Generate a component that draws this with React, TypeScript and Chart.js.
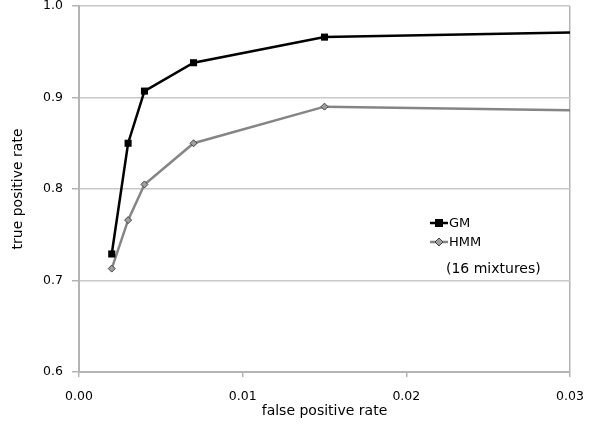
import React, { useEffect, useRef } from "react";
import { Chart, registerables } from "chart.js";

Chart.register(...registerables);

const fpr = [0.002, 0.003, 0.004, 0.007, 0.015, 0.03];
const gmTpr = [0.729, 0.85, 0.907, 0.938, 0.966, 0.971];
const hmmTpr = [0.713, 0.766, 0.805, 0.85, 0.89, 0.886];
const seriesNames = ["GM", "HMM"];
const noteText = "(16 mixtures)";
const xTitle = "false positive rate";
const yTitle = "true positive rate";

const FONT = "'DejaVu Sans', sans-serif";
const AXIS = "#b4b4b4";
const GRID = "#c8c8c8";

const legendPlugin = {
  id: "customLegend",
  afterDatasetsDraw(chart: any) {
    const ctx = chart.ctx;
    const items = chart.data.datasets;
    const x0 = 430;
    const ys = [223, 242];
    ctx.save();
    items.forEach((ds: any, i: number) => {
      const y = ys[i];
      ctx.strokeStyle = ds.borderColor;
      ctx.lineWidth = 2.5;
      ctx.beginPath();
      ctx.moveTo(x0, y);
      ctx.lineTo(x0 + 18, y);
      ctx.stroke();
      ctx.fillStyle = ds.pointBackgroundColor;
      ctx.strokeStyle = ds.pointBorderColor;
      ctx.lineWidth = 1;
      const cx = x0 + 9;
      if (i === 0) {
        ctx.fillRect(cx - 4, y - 4, 8, 8);
      } else {
        ctx.beginPath();
        ctx.moveTo(cx, y - 4);
        ctx.lineTo(cx + 4, y);
        ctx.lineTo(cx, y + 4);
        ctx.lineTo(cx - 4, y);
        ctx.closePath();
        ctx.fill();
        ctx.stroke();
      }
      ctx.fillStyle = "#000";
      ctx.font = `13px ${FONT}`;
      ctx.textBaseline = "middle";
      ctx.textAlign = "left";
      ctx.fillText(ds.label, x0 + 19, y + 1);
    });
    ctx.font = `14px ${FONT}`;
    ctx.fillStyle = "#000";
    ctx.textBaseline = "middle";
    ctx.fillText(noteText, 446, 269);
    ctx.restore();
  },
};

export default function App() {
  const ref = useRef<HTMLCanvasElement>(null);
  useEffect(() => {
    const chart = new Chart(ref.current as HTMLCanvasElement, {
      type: "scatter",
      data: {
        datasets: [
          {
            label: seriesNames[0],
            data: fpr.map((x, i) => ({ x, y: gmTpr[i] })),
            showLine: true,
            borderColor: "#000000",
            borderWidth: 2.5,
            pointStyle: "rect",
            pointRadius: fpr.map((_, i) => (i === fpr.length - 1 ? 0 : 5)),
            pointBackgroundColor: "#000000",
            pointBorderColor: "#000000",
            pointBorderWidth: 0,
          },
          {
            label: seriesNames[1],
            data: fpr.map((x, i) => ({ x, y: hmmTpr[i] })),
            showLine: true,
            borderColor: "#858585",
            borderWidth: 2.5,
            pointStyle: "rectRot",
            pointRadius: fpr.map((_, i) => (i === fpr.length - 1 ? 0 : 3.5)),
            pointBackgroundColor: "#a0a0a0",
            pointBorderColor: "#404040",
            pointBorderWidth: 1,
          },
        ],
      },
      options: {
        animation: false,
        responsive: false,
        devicePixelRatio: 1,
        layout: { padding: { top: 6, right: 27, left: 0, bottom: 0 } },
        plugins: { legend: { display: false }, tooltip: { enabled: false } },
        scales: {
          x: {
            type: "linear",
            min: 0,
            max: 0.03,
            afterFit: (s: any) => {
              s.height = 59;
              s.paddingLeft = 0;
              s.paddingRight = 0;
            },
            ticks: {
              stepSize: 0.01,
              padding: 12,
              color: "#000",
              font: { family: FONT, size: 12.5 },
              callback: (v: any) => Number(v).toFixed(2),
            },
            grid: {
              color: (c: any) => (c.index === 3 ? AXIS : "rgba(0,0,0,0)"),
              tickColor: AXIS,
              tickLength: 5,
              lineWidth: 1.5,
            },
            border: { color: AXIS, width: 2 },
            title: {
              display: true,
              text: xTitle,
              color: "#000",
              font: { family: FONT, size: 14 },
              padding: { top: 0, bottom: 11 },
            },
          },
          y: {
            type: "linear",
            min: 0.6,
            max: 1.0,
            afterFit: (s: any) => {
              s.width = 79;
              s.paddingTop = 0;
              s.paddingBottom = 0;
            },
            ticks: {
              stepSize: 0.1,
              padding: 9,
              color: "#000",
              font: { family: FONT, size: 12.5 },
              callback: (v: any) => Number(v).toFixed(1),
            },
            grid: {
              color: GRID,
              tickColor: AXIS,
              tickLength: 7,
              lineWidth: 1.5,
            },
            border: { color: AXIS, width: 2 },
            title: {
              display: true,
              text: yTitle,
              color: "#000",
              font: { family: FONT, size: 14 },
              padding: { top: 10, bottom: 0 },
            },
          },
        },
      },
      plugins: [legendPlugin],
    } as any);
    return () => chart.destroy();
  }, []);
  return (
    <div style={{ position: "absolute", left: 0, top: 0, width: 597, height: 431, background: "#fff" }}>
      <canvas ref={ref} width={597} height={431} />
    </div>
  );
}
